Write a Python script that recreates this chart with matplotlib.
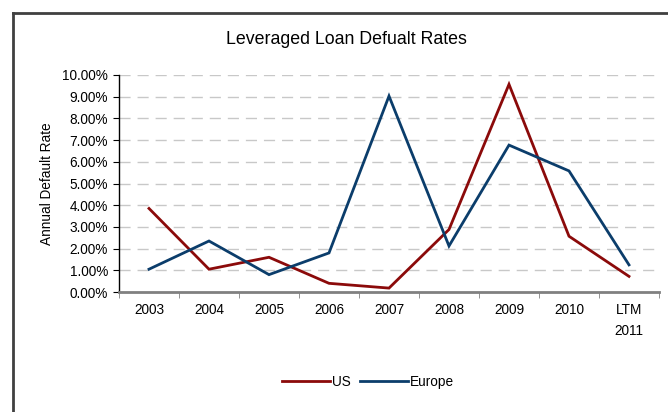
import matplotlib
matplotlib.use("Agg")
import matplotlib.pyplot as plt
from matplotlib.lines import Line2D
import numpy as np

categories = ["2003", "2004", "2005", "2006", "2007", "2008", "2009", "2010", "LTM\n2011"]
us = [3.85, 1.05, 1.6, 0.4, 0.18, 2.88, 9.57, 2.57, 0.72]
europe = [1.05, 2.35, 0.8, 1.8, 9.03, 2.12, 6.77, 5.58, 1.25]
yticks = [0, 1, 2, 3, 4, 5, 6, 7, 8, 9, 10]

plt.rcParams['font.family'] = ['Liberation Sans', 'DejaVu Sans']

W, H = 668, 412
fig = plt.figure(figsize=(W / 100, H / 100), dpi=100)
ax = fig.add_axes([119 / W, 1 - 292 / H, (659 - 119) / W, (292 - 75) / H])

x = np.arange(len(categories))
ax.plot(x, us, color="#8B0A0A", lw=2, label="US", solid_joinstyle="miter")
ax.plot(x, europe, color="#0B3D6B", lw=2, label="Europe", solid_joinstyle="miter")

ax.set_xlim(-0.5, len(categories) - 0.5)
ax.set_ylim(0, 10)
ax.set_yticks(yticks)
ax.set_yticklabels([f"{v:.2f}%" for v in yticks], fontsize=9.8)
for v in yticks[1:]:
    ax.axhline(v, color="#C8C8C8", lw=1, dashes=(8, 5), zorder=0)

ax.set_xticks(x)
ax.set_xticklabels(categories, fontsize=9.8, linespacing=1.6, va="top")
ax.set_xticks(np.arange(len(categories) + 1) - 0.5, minor=True)
ax.tick_params(axis="x", which="major", length=0, pad=8)
ax.tick_params(axis="x", which="minor", length=4, color="#808080", direction="out")
ax.tick_params(axis="y", length=4, color="black", direction="out", pad=4)

for s in ["top", "right"]:
    ax.spines[s].set_visible(False)
ax.spines["left"].set_color("black")
ax.spines["left"].set_linewidth(1)
ax.spines["bottom"].set_color("#808080")
ax.spines["bottom"].set_linewidth(2)

ax.set_ylabel("Annual Default Rate", fontsize=9.8, labelpad=6)
fig.text(346 / W, 1 - 40 / H, "Leveraged Loan Defualt Rates", fontsize=12.8, ha="center", va="center")

leg = fig.legend(loc="center", bbox_to_anchor=(368 / W, 1 - 382 / H), ncol=2, frameon=False,
                 fontsize=9.8, handlelength=3.5, handletextpad=0.15, columnspacing=0.7)

# outer frame (top and left edges visible)
fig.add_artist(Line2D([13 / W, 1.0], [1 - 13 / H, 1 - 13 / H], color="#404040", lw=2, transform=fig.transFigure))
fig.add_artist(Line2D([13 / W, 13 / W], [1 - 13 / H, 0], color="#404040", lw=2, transform=fig.transFigure))

fig.savefig("out.png", dpi=100)
